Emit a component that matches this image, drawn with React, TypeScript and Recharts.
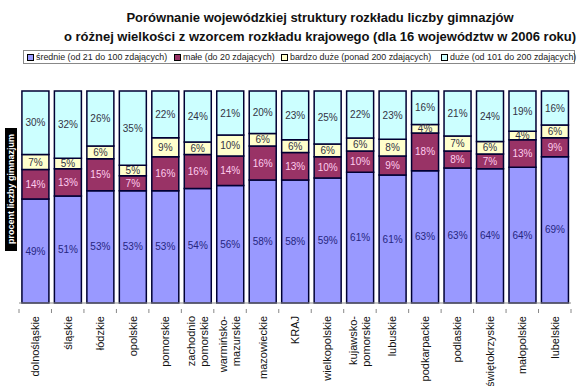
import React from 'react';
import { BarChart, Bar, XAxis, YAxis, Legend, LabelList } from 'recharts';

const categories = [
  'dolnośląskie',
  'śląskie',
  'łódzkie',
  'opolskie',
  'pomorskie',
  'zachodnio\npomorskie',
  'warmińsko-\nmazurskie',
  'mazowieckie',
  'KRAJ',
  'wielkopolskie',
  'kujawsko-\npomorskie',
  'lubuskie',
  'podkarpackie',
  'podlaskie',
  'świętokrzyskie',
  'małopolskie',
  'lubelskie',
];

const srednie = [49, 51, 53, 53, 53, 54, 56, 58, 58, 59, 61, 61, 63, 63, 64, 64, 69];
const male = [14, 13, 15, 7, 16, 16, 14, 16, 13, 10, 10, 9, 18, 8, 7, 13, 9];
const bardzoDuze = [7, 5, 6, 5, 9, 6, 10, 6, 6, 6, 6, 8, 4, 7, 6, 4, 6];
const duze = [30, 32, 26, 35, 22, 24, 21, 20, 23, 25, 22, 23, 16, 21, 24, 19, 16];

const seriesKeys = ['srednie', 'male', 'bardzoDuze', 'duze'];
const seriesNames: Record<string, string> = {
  srednie: 'średnie (od 21 do 100 zdających)',
  male: 'małe (do 20 zdających)',
  bardzoDuze: 'bardzo duże (ponad 200 zdających)',
  duze: 'duże (od 101 do 200 zdających)',
};
const seriesColors: Record<string, string> = {
  srednie: '#9999ff',
  male: '#993366',
  bardzoDuze: '#ffffcc',
  duze: '#ccffff',
};
const labelColors: Record<string, string> = {
  srednie: '#262680',
  male: '#ffccee',
  bardzoDuze: '#333344',
  duze: '#333344',
};

const data = categories.map((name, i) => ({
  name,
  srednie: srednie[i],
  male: male[i],
  bardzoDuze: bardzoDuze[i],
  duze: duze[i],
}));

const FONT = 'Arial, "Liberation Sans", sans-serif';
const pct = (v: any) => `${v}%`;

const XTick = (props: any) => {
  const { x, y, payload } = props;
  const half = payload.offset || 16;
  const lines = String(payload.value).split('\n');
  const offsets = lines.length === 1 ? [4] : [-3, 10];
  return (
    <g>
      <line x1={x - half} x2={x - half} y1={y - 2} y2={y + 2} stroke="#888" />
      {payload.index === categories.length - 1 && (
        <line x1={x + half} x2={x + half} y1={y - 2} y2={y + 2} stroke="#888" />
      )}
      <g transform={`translate(${x},${y + 5}) rotate(-90)`}>
        {lines.map((l, i) => (
          <text key={i} x={0} y={offsets[i]} textAnchor="end" fontSize={11} fontFamily={FONT} fill="#111">
            {l}
          </text>
        ))}
      </g>
    </g>
  );
};

// item left edges inside the legend box
const legendOffsets = [3, 150, 257, 417];

const LegendBox = () => (
  <div
    style={{
      position: 'relative',
      border: '1px solid #888',
      height: 12,
      fontFamily: FONT,
      fontSize: 8.9,
      color: '#222',
      whiteSpace: 'nowrap',
    }}
  >
    {seriesKeys.map((k, i) => (
      <span
        key={k}
        style={{ position: 'absolute', left: legendOffsets[i], top: 0, height: 12, display: 'flex', alignItems: 'center' }}
      >
        <span
          style={{
            display: 'inline-block',
            width: 5,
            height: 5,
            background: seriesColors[k],
            border: '1.5px solid #000',
            marginRight: 2,
          }}
        />
        {seriesNames[k]}
      </span>
    ))}
  </div>
);

export default function App() {
  return (
    <div style={{ position: 'absolute', left: 0, top: 0, width: 581, height: 386, background: '#fff' }}>
      <div
        style={{
          position: 'absolute',
          left: 320,
          top: 8,
          transform: 'translateX(-50%)',
          whiteSpace: 'nowrap',
          textAlign: 'center',
          fontFamily: FONT,
          fontWeight: 'bold',
          fontSize: 13,
          lineHeight: '19px',
          color: '#111',
        }}
      >
        Porównanie wojewódzkiej struktury rozkładu liczby gimnazjów
        <br />o różnej wielkości z wzorcem rozkładu krajowego (dla 16 województw w 2006 roku)
      </div>
      <div
        style={{
          position: 'absolute',
          left: 5,
          top: 128,
          width: 12,
          height: 123,
          background: '#000',
        }}
      >
        <div
          style={{
            position: 'absolute',
            left: 6,
            top: 61,
            transform: 'translate(-50%, -50%) rotate(-90deg)',
            whiteSpace: 'nowrap',
            color: '#fff',
            fontFamily: FONT,
            fontWeight: 'bold',
            fontSize: 9,
          }}
        >
          procent liczby gimnazjum
        </div>
      </div>
      <BarChart
        width={581}
        height={386}
        data={data}
        stackOffset="expand"
        barCategoryGap="9%"
        margin={{ top: 77, right: 10, left: 19, bottom: 0 }}
      >
        <XAxis
          dataKey="name"
          interval={0}
          height={83}
          tickLine={false}
          axisLine={{ stroke: '#888' }}
          tick={<XTick />}
        />
        <YAxis hide domain={[0, 1]} />
        <Legend
          verticalAlign="top"
          content={<LegendBox />}
          wrapperStyle={{ position: 'absolute', top: 50, left: 23, width: 552 }}
        />
        {seriesKeys.map((k) => (
          <Bar
            key={k}
            dataKey={k}
            name={seriesNames[k]}
            stackId="a"
            fill={seriesColors[k]}
            stroke="#000033"
            strokeWidth={1.5}
            isAnimationActive={false}
          >
            <LabelList dataKey={k} position="center" formatter={pct} fontSize={10} fontFamily={FONT} fill={labelColors[k]} />
          </Bar>
        ))}
      </BarChart>
    </div>
  );
}
